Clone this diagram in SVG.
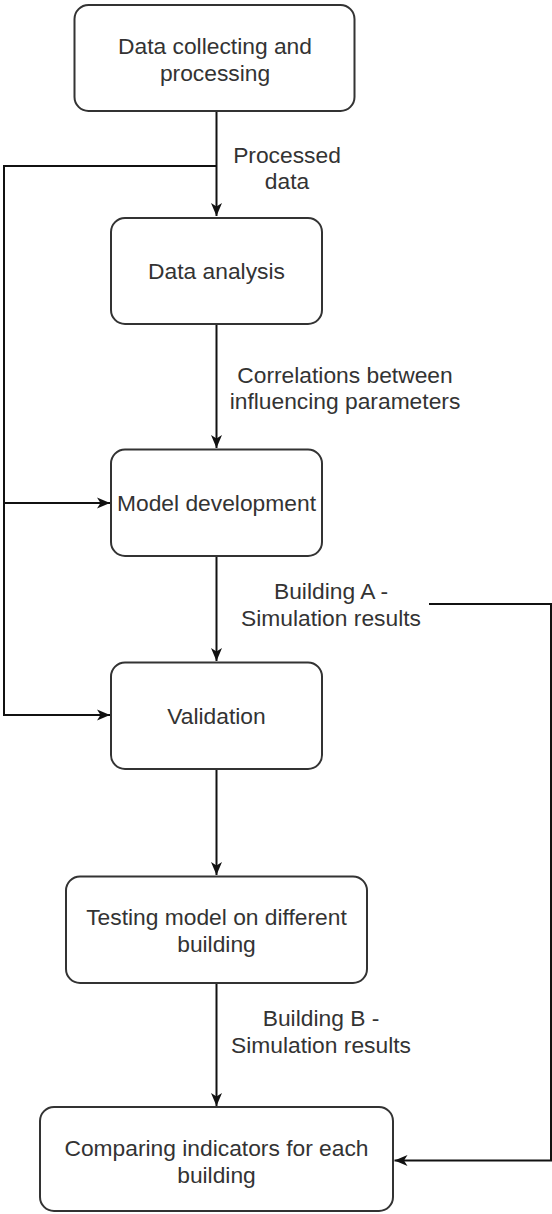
<svg xmlns="http://www.w3.org/2000/svg" width="552" height="1214" viewBox="0 0 552 1214">
<style>
.box{fill:#fff;stroke:#333;stroke-width:2}
.t{font-family:"Liberation Sans",Arial,sans-serif;font-size:22.8px;fill:#333;text-anchor:middle}
.c{fill:none;stroke:#111;stroke-width:2}
</style>
<defs>
<marker id="arr" markerUnits="userSpaceOnUse" viewBox="-14 -7 15 14" refX="0" refY="0" markerWidth="15" markerHeight="14" orient="auto">
<path d="M0,0 L-13,-5.5 L-9.5,0 L-13,5.5 Z" fill="#111"/>
</marker>
</defs>
<rect width="552" height="1214" fill="#fff"/>
<g id="connectors">
<path class="c" d="M216.5,111 V216" marker-end="url(#arr)"/>
<path class="c" d="M216.5,166 H4 V715 H110" marker-end="url(#arr)"/>
<path class="c" d="M4,503 H110" marker-end="url(#arr)"/>
<path class="c" d="M216.5,324 V448" marker-end="url(#arr)"/>
<path class="c" d="M216.5,556 V661" marker-end="url(#arr)"/>
<path class="c" d="M216.5,769 V875" marker-end="url(#arr)"/>
<path class="c" d="M216.5,983 V1106" marker-end="url(#arr)"/>
<path class="c" d="M429,604 H551 V1160.5 H394.5" marker-end="url(#arr)"/>
<text class="t" x="287" y="163">Processed</text>
<text class="t" x="287" y="189">data</text>
<text class="t" x="345" y="383">Correlations between</text>
<text class="t" x="345" y="409">influencing parameters</text>
<text class="t" x="331" y="599">Building A -</text>
<text class="t" x="331" y="626">Simulation results</text>
<text class="t" x="321" y="1026">Building B -</text>
<text class="t" x="321" y="1053">Simulation results</text>
</g>
<g id="n1">
<rect class="box" x="74.5" y="5" width="280" height="106" rx="14"/>
<text class="t" x="215" y="54">Data collecting and</text>
<text class="t" x="215" y="81">processing</text>
</g>
<g id="n2">
<rect class="box" x="111" y="218" width="211" height="106" rx="14"/>
<text class="t" x="216.5" y="279">Data analysis</text>
</g>
<g id="n3">
<rect class="box" x="111" y="449.5" width="211" height="106.5" rx="14"/>
<text class="t" x="216.5" y="511">Model development</text>
</g>
<g id="n4">
<rect class="box" x="111" y="662.5" width="211" height="106.5" rx="14"/>
<text class="t" x="216.5" y="724">Validation</text>
</g>
<g id="n5">
<rect class="box" x="66" y="876.5" width="301" height="106.5" rx="14"/>
<text class="t" x="216.5" y="925">Testing model on different</text>
<text class="t" x="216.5" y="952">building</text>
</g>
<g id="n6">
<rect class="box" x="40" y="1107" width="353" height="104" rx="14"/>
<text class="t" x="216.5" y="1156">Comparing indicators for each</text>
<text class="t" x="216.5" y="1183">building</text>
</g>
</svg>
